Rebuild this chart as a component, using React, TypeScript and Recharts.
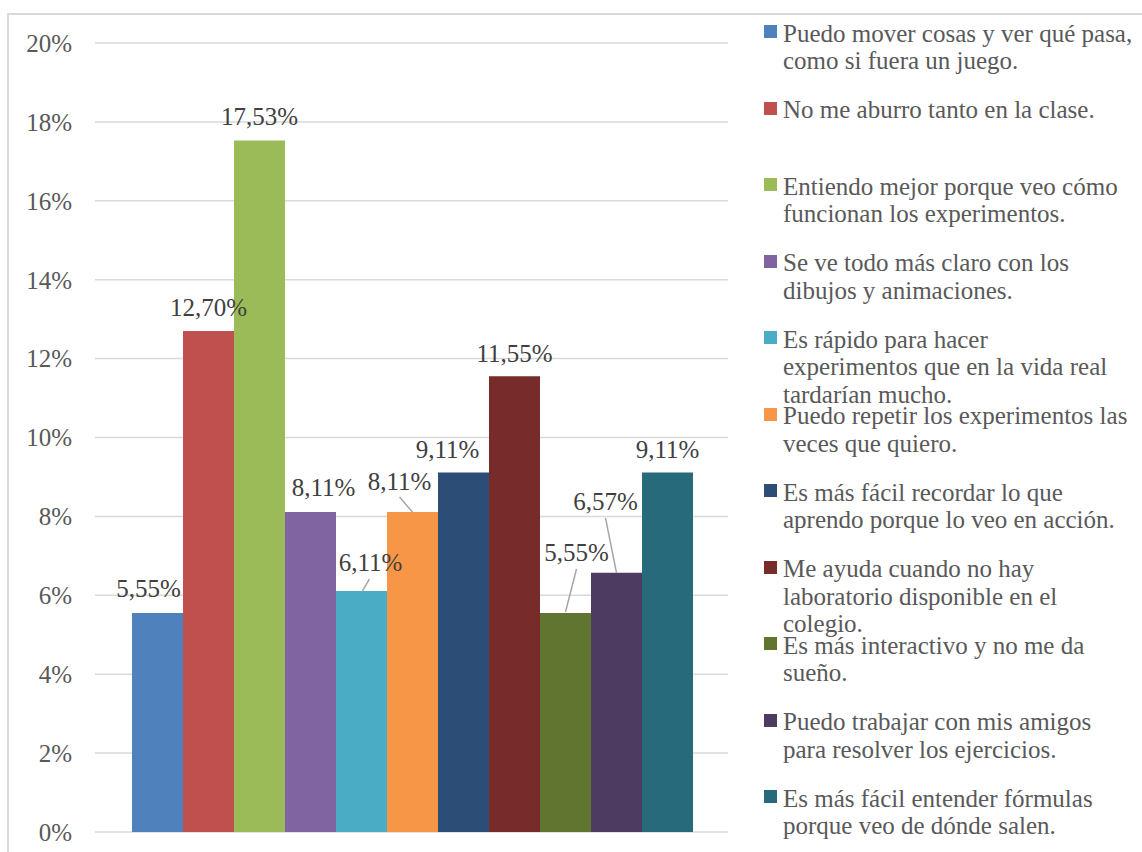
import React from "react";
import { BarChart, Bar, XAxis, YAxis, CartesianGrid, Legend, LabelList } from "recharts";

const categories = ["Motivos"];

const seriesNames = [
  "Puedo mover cosas y ver qué pasa,\ncomo si fuera un juego.",
  "No me aburro tanto en la clase.",
  "Entiendo mejor porque veo cómo\nfuncionan los experimentos.",
  "Se ve todo más claro con los\ndibujos y animaciones.",
  "Es rápido para hacer\nexperimentos que en la vida real\ntardarían mucho.",
  "Puedo repetir los experimentos las\nveces que quiero.",
  "Es más fácil recordar lo que\naprendo porque lo veo en acción.",
  "Me ayuda cuando no hay\nlaboratorio disponible en el\ncolegio.",
  "Es más interactivo y no me da\nsueño.",
  "Puedo trabajar con mis amigos\npara resolver los ejercicios.",
  "Es más fácil entender fórmulas\nporque veo de dónde salen.",
];

const seriesValues = [5.55, 12.7, 17.53, 8.11, 6.11, 8.11, 9.11, 11.55, 5.55, 6.57, 9.11];

const yTicks = [0, 2, 4, 6, 8, 10, 12, 14, 16, 18, 20];

const colors = [
  "#4f81bd", "#c0504d", "#9bbb59", "#8064a2", "#4bacc6", "#f79646",
  "#2c4d75", "#772c2a", "#5f7530", "#4d3b62", "#276a7c",
];

// label placement relative to bar center/top: [dx, dy, lineFrom, lineTo]
const labelLayout: Array<{ dx: number; dy: number; line?: [number, number, number, number] }> = [
  { dx: -9, dy: -25 },
  { dx: 0, dy: -23 },
  { dx: 0, dy: -24 },
  { dx: 13, dy: -25 },
  { dx: 9, dy: -28, line: [8, -12, 1, 0] },
  { dx: -13, dy: -31, line: [-13, -15, 0, 0] },
  { dx: -16, dy: -23 },
  { dx: 0, dy: -23 },
  { dx: 11, dy: -61, line: [11, -44, 0, -1] },
  { dx: -11, dy: -71, line: [-11, -55, 0, 0] },
  { dx: 0, dy: -23 },
];

const FONT = "'Liberation Serif', serif";

const data = categories.map((c) => {
  const row: Record<string, any> = { name: c };
  seriesValues.forEach((v, i) => {
    row["s" + i] = v;
  });
  return row;
});

const fmt = (v: number) => v.toFixed(2).replace(".", ",") + "%";

const makeLabel = (i: number) => (props: any) => {
  const { x, y, width, value } = props;
  const cx = Number(x) + Number(width) / 2;
  const top = Number(y);
  const L = labelLayout[i];
  return (
    <g>
      {L.line && (
        <line
          x1={cx + L.line[0]}
          y1={top + L.line[1]}
          x2={cx + L.line[2]}
          y2={top + L.line[3]}
          stroke="#a6a6a6"
          strokeWidth={1.5}
        />
      )}
      <text
        x={cx + L.dx}
        y={top + L.dy}
        textAnchor="middle"
        dominantBaseline="central"
        fontFamily={FONT}
        fontSize={25}
        fill="#404040"
      >
        {fmt(Number(value))}
      </text>
    </g>
  );
};

const renderLegend = (props: any) => {
  const payload = [...(props.payload || [])].sort(
    (a: any, b: any) => seriesNames.indexOf(a.value) - seriesNames.indexOf(b.value)
  );
  return (
    <div style={{ position: "relative", width: 379, height: 820 }}>
      {payload.map((p: any, i: number) => (
        <div
          key={i}
          style={{
            position: "absolute",
            left: 0,
            top: i * 76.5,
            width: 379,
          }}
        >
          <div
            style={{
              position: "absolute",
              left: 1,
              top: 3,
              width: 13,
              height: 13,
              background: p.color,
            }}
          />
          <div
            style={{
              position: "absolute",
              left: 20,
              top: -2.5,
              whiteSpace: "pre",
              fontFamily: FONT,
              fontSize: 25,
              lineHeight: "27.5px",
              color: "#595959",
            }}
          >
            {p.value}
          </div>
        </div>
      ))}
    </div>
  );
};

export default function App() {
  return (
    <div style={{ position: "relative", width: 1142, height: 852, overflow: "hidden", background: "#fff" }}>
      <style>{`body{margin:0;overflow:hidden}`}</style>
      <div
        style={{
          position: "absolute",
          left: 7,
          top: 13,
          width: 1300,
          height: 1000,
          border: "2px solid #d9d9d9",
          boxSizing: "border-box",
        }}
      />
      <div style={{ position: "absolute", left: 0, top: 0 }}>
        <BarChart
          width={1142}
          height={852}
          data={data}
          margin={{ top: 43, right: 414, left: 0, bottom: 20 }}
          barGap={0}
          barCategoryGap={37}
        >
          <CartesianGrid vertical={false} stroke="#d9d9d9" strokeWidth={1.5} />
          <XAxis dataKey="name" hide />
          <YAxis
            width={95}
            domain={[0, 20]}
            ticks={yTicks}
            interval={0}
            axisLine={false}
            tickLine={false}
            tickSize={0}
            tickMargin={23}
            tickFormatter={(v: number) => `${v}%`}
            tick={{ fontFamily: FONT, fontSize: 25, fill: "#595959" }}
          />
          <Legend
            layout="horizontal"
            verticalAlign="middle"
            align="center"
            content={renderLegend}
            wrapperStyle={{ left: 763, top: 22, width: 379 }}
          />
          {seriesNames.map((n, i) => (
            <Bar key={i} dataKey={"s" + i} name={n} fill={colors[i]} isAnimationActive={false}>
              <LabelList dataKey={"s" + i} content={makeLabel(i)} />
            </Bar>
          ))}
        </BarChart>
      </div>
    </div>
  );
}
